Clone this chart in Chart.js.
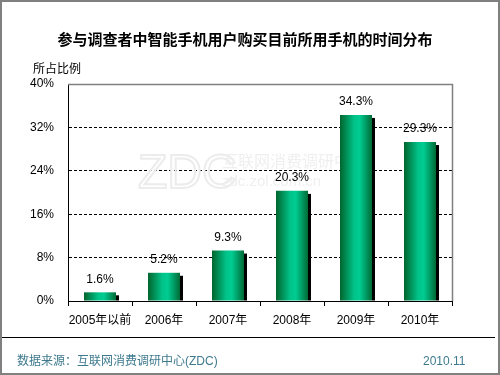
<!DOCTYPE html>
<html>
<head>
<meta charset="utf-8">
<script src="https://cdn.jsdelivr.net/npm/chart.js@4"></script>
<style>
  html,body{margin:0;padding:0;background:#fff;}
  #wrap{position:relative;width:500px;height:375px;overflow:hidden;background:#fff;}
  #frame{position:absolute;left:0;top:0;width:500px;height:375px;box-sizing:border-box;border:2px solid #808080;pointer-events:none;}
  canvas{position:absolute;left:0;top:0;}
  .t{position:absolute;white-space:nowrap;font-family:"Liberation Sans","Noto Sans CJK SC",sans-serif;}
  #title{left:0;width:490px;top:29px;text-align:center;font-family:"Noto Sans CJK SC",sans-serif;font-weight:bold;font-size:15px;color:#000;line-height:20px;}
  #ylab{left:33px;top:60px;font-family:"Noto Sans CJK SC",sans-serif;font-size:12px;line-height:16px;color:#000;}
  #rule{position:absolute;left:2px;top:337px;width:493px;height:0;border-top:1.5px solid #000;}
  #src{left:17px;top:353px;font-size:12px;line-height:16px;color:#3e7a8e;}
  #date{left:423px;top:353px;font-size:12px;line-height:16px;color:#3e7a8e;}
</style>
</head>
<body>
<div id="wrap">
  <canvas id="c" width="500" height="375"></canvas>
  <div id="title" class="t">参与调查者中智能手机用户购买目前所用手机的时间分布</div>
  <div id="ylab" class="t">所占比例</div>
  <div id="rule"></div>
  <div id="src" class="t">数据来源：互联网消费调研中心(ZDC)</div>
  <div id="date" class="t">2010.11</div>
  <div id="frame"></div>
</div>
<script>
const categories = ["2005年以前", "2006年", "2007年", "2008年", "2009年", "2010年"];
const shares = [1.6, 5.2, 9.3, 20.3, 34.3, 29.3];
const yTicks = [0, 8, 16, 24, 32, 40];

const FONT = '"Liberation Sans","Noto Sans CJK SC",sans-serif';
const BAR_PCT = 0.5;

function barGradient(ctx) {
  const chart = ctx.chart;
  const xs = chart.scales && chart.scales.x;
  if (!chart.chartArea || !xs || ctx.dataIndex === undefined) return '#00b07a';
  const cx = xs.getPixelForValue(ctx.dataIndex);
  const w = (chart.chartArea.right - chart.chartArea.left) / categories.length * BAR_PCT;
  const x0 = cx - w / 2, x1 = cx + w / 2;
  if (!isFinite(x0) || !isFinite(x1) || x1 <= x0) return '#00b07a';
  const g = chart.ctx.createLinearGradient(x0, 0, x1, 0);
  g.addColorStop(0, '#00652d');
  g.addColorStop(0.45, '#00c48a');
  g.addColorStop(0.62, '#00cc92');
  g.addColorStop(1, '#006a36');
  return g;
}

const decor = {
  id: 'decor',
  beforeDatasetsDraw(chart) {
    const ctx = chart.ctx;
    // faint watermark
    ctx.save();
    ctx.strokeStyle = '#ececec';
    ctx.lineWidth = 2;
    ctx.font = '48px ' + FONT;
    ctx.textBaseline = 'alphabetic';
    ctx.strokeText('ZDC', 138, 188);
    ctx.fillStyle = '#efefef';
    ctx.font = '16px "Noto Sans CJK SC",sans-serif';
    ctx.fillText('互联网消费调研中心', 222, 167);
    ctx.font = '15px ' + FONT;
    ctx.fillText('zdc.zol.com.cn', 222, 186);
    ctx.restore();
    // bar shadows
    const meta = chart.getDatasetMeta(0);
    ctx.save();
    ctx.fillStyle = '#000';
    meta.data.forEach(b => {
      const right = b.x + b.width / 2;
      const top = b.y + 3;
      if (b.base > top) ctx.fillRect(right, top, 3, b.base - top);
    });
    ctx.restore();
  },
  afterDatasetsDraw(chart) {
    const ctx = chart.ctx;
    const meta = chart.getDatasetMeta(0);
    ctx.save();
    ctx.fillStyle = '#000';
    ctx.font = '12px ' + FONT;
    ctx.textAlign = 'center';
    ctx.textBaseline = 'middle';
    meta.data.forEach((b, i) => {
      ctx.fillText(shares[i].toFixed(1) + '%', b.x, b.y - 13);
    });
    // gray top/right plot border
    const a = chart.chartArea;
    ctx.strokeStyle = '#808080';
    ctx.lineWidth = 1.5;
    ctx.beginPath();
    ctx.moveTo(a.left, a.top + 0.5);
    ctx.lineTo(a.right + 0.5, a.top + 0.5);
    ctx.lineTo(a.right + 0.5, a.bottom);
    ctx.stroke();
    ctx.restore();
  }
};

new Chart(document.getElementById('c'), {
  type: 'bar',
  data: {
    labels: categories,
    datasets: [{
      data: shares,
      backgroundColor: barGradient,
      borderWidth: 0,
      barPercentage: BAR_PCT,
      categoryPercentage: 1.0
    }]
  },
  options: {
    responsive: false,
    animation: false,
    devicePixelRatio: 1,
    layout: { padding: { left: 20, right: 48, top: 84, bottom: 34 } },
    plugins: { legend: { display: false }, tooltip: { enabled: false } },
    scales: {
      x: {
        grid: { display: true, drawOnChartArea: false, drawTicks: true, tickLength: 5, offset: true, tickColor: '#000', color: '#000' },
        border: { display: true, color: '#000', width: 1 },
        ticks: { color: '#000', font: { size: 12, family: FONT }, padding: 7, maxRotation: 0, autoSkip: false },
        afterFit(s) { s.height = 40; }
      },
      y: {
        min: 0, max: 40,
        afterBuildTicks(s) { s.ticks = yTicks.map(v => ({ value: v })); },
        grid: {
          drawTicks: false,
          color: c => (c.tick && (c.tick.value === 0 || c.tick.value === 40)) ? 'rgba(0,0,0,0)' : '#000',
          lineWidth: 1
        },
        border: { display: true, color: '#000', width: 1, dash: [3, 2] },
        ticks: { color: '#000', font: { size: 12, family: FONT }, padding: 14, callback: v => v + '%' },
        afterFit(s) { s.width = 48; }
      }
    }
  },
  plugins: [decor]
});
</script>
</body>
</html>
